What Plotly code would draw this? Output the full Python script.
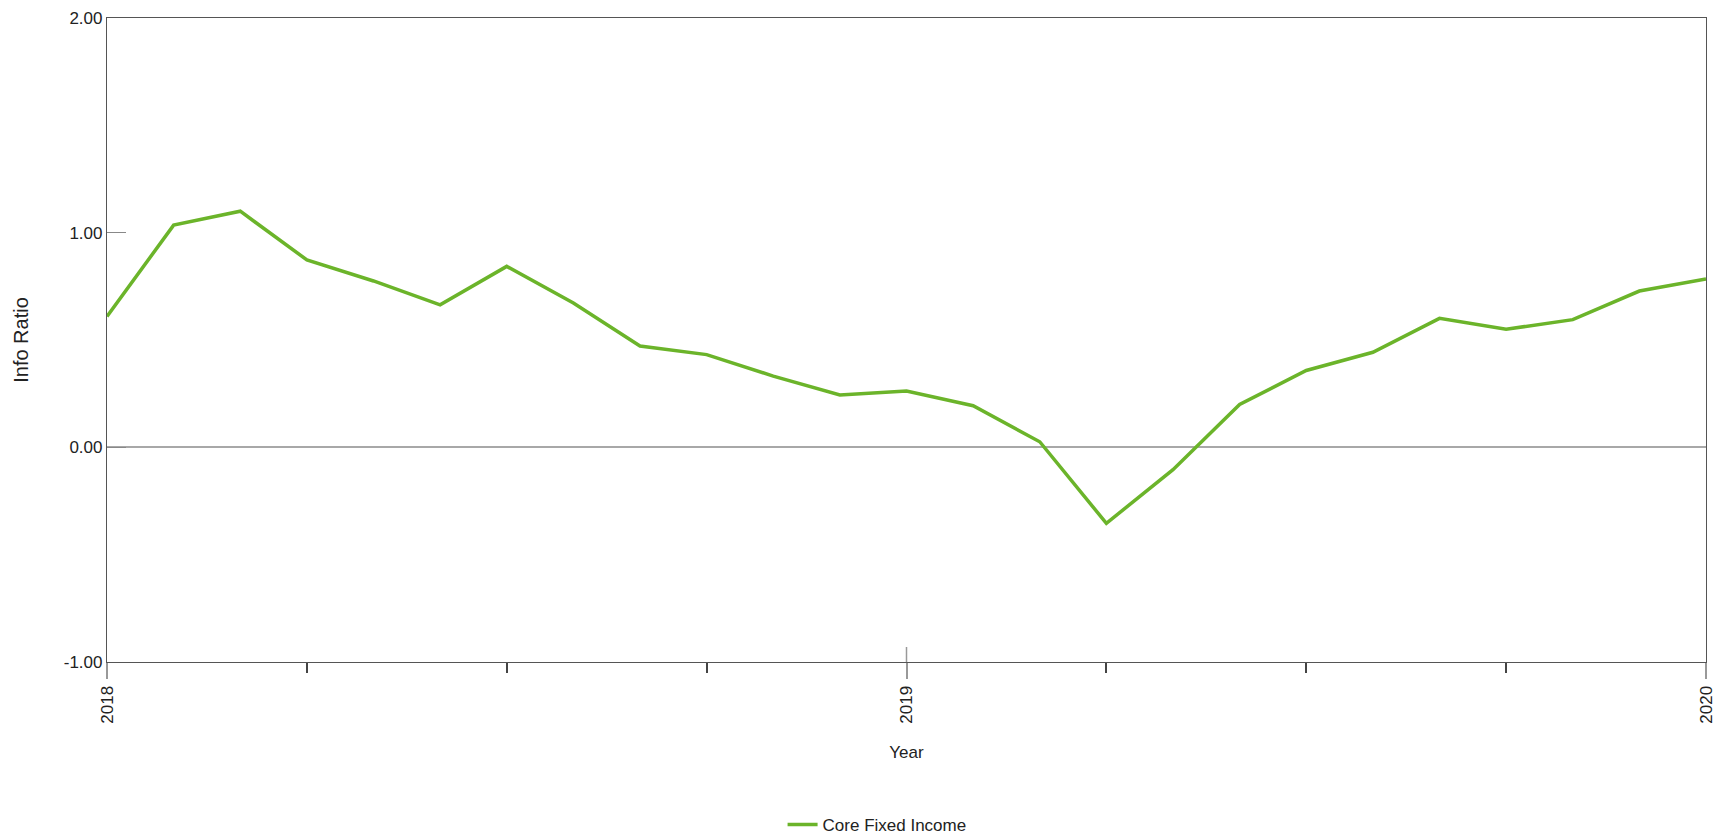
import plotly.graph_objects as go

months = ["2018-01", "2018-02", "2018-03", "2018-04", "2018-05", "2018-06", "2018-07",
          "2018-08", "2018-09", "2018-10", "2018-11", "2018-12", "2019-01", "2019-02",
          "2019-03", "2019-04", "2019-05", "2019-06", "2019-07", "2019-08", "2019-09",
          "2019-10", "2019-11", "2019-12", "2020-01"]
info_ratio = [0.61, 1.035, 1.10, 0.873, 0.775, 0.664, 0.843, 0.672, 0.472, 0.432,
              0.332, 0.244, 0.262, 0.194, 0.026, -0.354, -0.104, 0.200, 0.358, 0.443,
              0.601, 0.550, 0.595, 0.728, 0.784]
series_name = "Core Fixed Income"
year_ticks = [2018, 2019, 2020]
year_labels = ["2018", "2019", "2020"]
y_ticks = [-1.0, 0.0, 1.0, 2.0]

x_vals = [int(m[:4]) + (int(m[5:]) - 1) / 12 for m in months]

FONT = "Liberation Sans, Arial, sans-serif"
GREEN = "#6BB42A"

fig = go.Figure()
fig.add_trace(go.Scatter(x=x_vals, y=info_ratio, mode="lines", name=series_name,
                         line=dict(color=GREEN, width=3.5), showlegend=True))

fig.update_layout(
    width=1718, height=836,
    margin=dict(l=107, r=12, t=18, b=174, autoexpand=False),
    paper_bgcolor="white", plot_bgcolor="white",
    font=dict(family=FONT, size=17, color="#222222"),
    showlegend=True,
    legend=dict(orientation="h", x=0.4816, xanchor="center", y=-0.253, yanchor="middle",
                font=dict(size=17, color="#222222"), itemwidth=30),
)
fig.update_xaxes(
    range=[2018, 2020], tickvals=year_ticks, ticktext=year_labels, tickangle=-90,
    ticks="outside", ticklen=16, tickcolor="#999999", tickwidth=1.5,
    minor=dict(dtick=0.25, tick0=2018, ticks="outside", ticklen=10, tickcolor="#444444", showgrid=False),
    showgrid=False, zeroline=False, showline=True, linecolor="#555555", linewidth=1.2, mirror=True,
    title=dict(text="Year", font=dict(size=17), standoff=23),
    tickfont=dict(size=17), automargin=False,
)
fig.update_yaxes(
    range=[-1, 2], tickvals=y_ticks, ticktext=[f"{v:.2f}" for v in y_ticks],
    ticks="inside", ticklen=19, tickcolor="#888888", tickwidth=1.2,
    showgrid=False, zeroline=True, zerolinecolor="#a8a8a8", zerolinewidth=1.5,
    showline=True, linecolor="#555555", linewidth=1.2, mirror=True,
    title=dict(text="Info Ratio", font=dict(size=20), standoff=29),
    tickfont=dict(size=17), automargin=False,
)
# upper part of the 2019 year tick, crossing the axis
fig.add_shape(type="line", xref="x", yref="paper", x0=year_ticks[1], x1=year_ticks[1],
              y0=0, y1=0.0233, line=dict(color="#999999", width=1.5))

# remove the browser's default 8px page margin so the figure fills the window exactly
fig.write_html("out.html", config={"displayModeBar": False},
               post_script="document.body.style.margin='0';document.body.style.overflow='hidden';")
